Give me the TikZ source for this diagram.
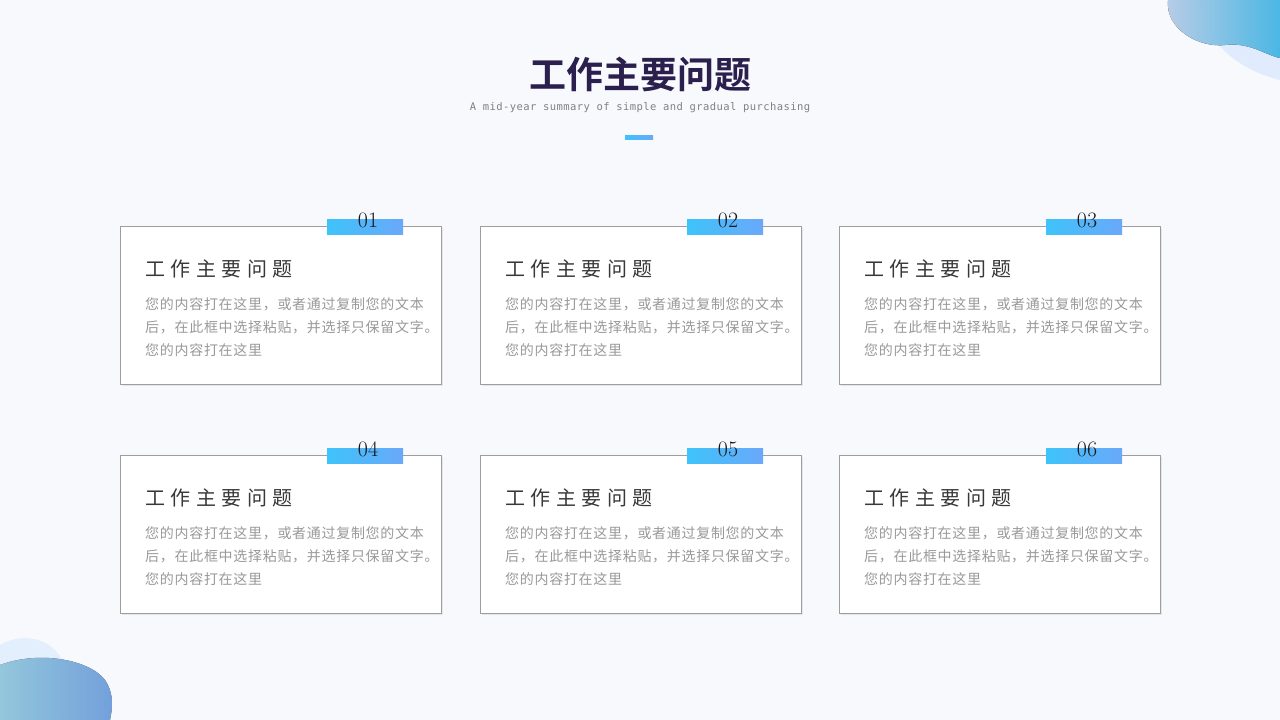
\documentclass[tikz,border=0pt]{standalone}
\usepackage{fontspec}
\newfontfamily\cjk{Noto Sans CJK SC}
\newfontfamily\cjksp[LetterSpace=5]{Noto Sans CJK SC}
\newfontfamily\cjkb{Noto Sans CJK SC Bold}
\setmonofont{DejaVu Sans Mono}
\usetikzlibrary{shadows}
\definecolor{bg}{HTML}{F8F9FC}
\definecolor{blueA}{HTML}{3EC3FA}
\definecolor{blueB}{HTML}{6AA8FA}
\definecolor{ttl}{HTML}{2A1F4D}
\tikzset{
 card/.style={draw=black!38,line width=0.9pt,fill=white,minimum width=321pt,minimum height=158pt,anchor=north west,inner sep=0pt,
   drop shadow={shadow xshift=2pt,shadow yshift=-2pt,opacity=0.15}},
 tab/.style={left color=blueA,right color=blueB,minimum width=76pt,minimum height=15pt,inner sep=0pt,anchor=north west},
 num/.style={font=\fontsize{22}{22}\selectfont,text=black!90},
 ctitle/.style={font=\cjk\fontsize{20}{20}\selectfont,text=black!78,anchor=west,inner sep=0pt},
 cbody/.style={font=\cjksp\fontsize{14}{23}\selectfont,text=black!40,anchor=north west,inner sep=0pt,align=left}
}
\begin{document}
\begin{tikzpicture}[x=1pt,y=-1pt]
\fill[bg] (0,0) rectangle (1280,720);
\useasboundingbox (0,0) rectangle (1280,720);
\begin{scope}
\clip (0,0) rectangle (1280,720);
\fill[blueB!25,opacity=0.8] (1200,0) .. controls (1205,45) and (1240,70) .. (1280,80) -- (1280,0) -- cycle;
\fill[left color=blueB!35,right color=blueA!90,opacity=0.9] (1168,0) .. controls (1165,30) and (1200,48) .. (1225,45) .. controls (1250,42) and (1265,55) .. (1280,58) -- (1280,0) -- cycle;
\fill[blueB!20,opacity=0.9] (0,645) .. controls (25,630) and (60,640) .. (65,670) .. controls (70,700) and (60,710) .. (50,720) -- (0,720) -- cycle;
\fill[left color=blueA!45,right color=blueB!85,opacity=0.85] (0,665) .. controls (40,650) and (90,660) .. (105,680) .. controls (115,695) and (112,710) .. (110,720) -- (0,720) -- cycle;
\end{scope}
\node[font=\cjkb\fontsize{37}{37}\selectfont,text=ttl] (title) at (640,74) {工作主要问题};
\node[font=\ttfamily\fontsize{10.5}{10.5}\selectfont,text=black!50] (sub) at (640,108) {\addfontfeatures{LetterSpace=4}A mid-year summary of simple and gradual purchasing};
\fill[left color=blueA,right color=blueB] (625,135) rectangle (653,139);
\foreach \i/\x/\y in {01/120/226,02/480/226,03/839/226,04/120/455,05/480/455,06/839/455}{
 \node[card] (c\i) at (\x,\y) {};
 \node[tab] (t\i) at (\x+207,\y-7) {};
 \node[num] (n\i) at (\x+248,\y-6) {\i};
 \node[ctitle] (h\i) at (\x+25,\y+43) {工\hspace{5.5pt}作\hspace{5.5pt}主\hspace{5.5pt}要\hspace{5.5pt}问\hspace{5.5pt}题};
 \node[cbody] (b\i) at (\x+25,\y+71) {您的内容打在这里，或者通过复制您的文本\\后，在此框中选择粘贴，并选择只保留文字。\\您的内容打在这里};
}
\end{tikzpicture}
\end{document}
